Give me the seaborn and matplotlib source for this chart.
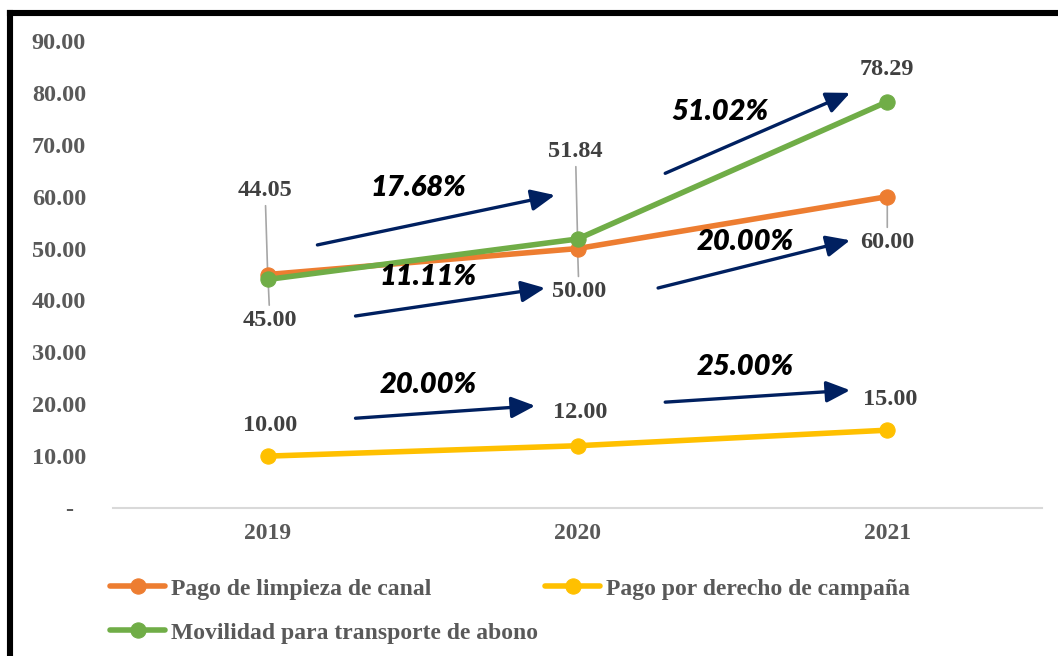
import pandas as pd
import matplotlib.pyplot as plt
from matplotlib.lines import Line2D
import seaborn as sns

# --- Datos ---
anios = [2019, 2020, 2021]
limpieza_canal = [45.00, 50.00, 60.00]
derecho_campana = [10.00, 12.00, 15.00]
movilidad_abono = [44.05, 51.84, 78.29]

series = ['Pago de limpieza de canal', 'Pago por derecho de campaña',
          'Movilidad para transporte de abono']
colores = ['#ED7D31', '#FFC000', '#70AD47']

# variaciones porcentuales entre años (texto de las flechas)
var_limpieza = ['11.11%', '20.00%']
var_campana = ['20.00%', '25.00%']
var_movilidad = ['17.68%', '51.02%']

df = pd.DataFrame({
    'Año': anios * 3,
    'Valor': limpieza_canal + derecho_campana + movilidad_abono,
    'Serie': [series[0]] * 3 + [series[1]] * 3 + [series[2]] * 3,
})

sns.set_theme(style='white')
plt.rcParams['font.family'] = ['Liberation Serif', 'DejaVu Serif']

fig = plt.figure(figsize=(10.58, 6.56), dpi=100)
ax = fig.add_axes([0.1068, 0.2256, 0.8782, 0.7119])

sns.lineplot(data=df, x='Año', y='Valor', hue='Serie', hue_order=series,
             palette=colores, marker='o', markersize=11, linewidth=4,
             ax=ax, legend=True)
for ln in ax.lines:
    ln.set_markeredgecolor(ln.get_color())
    ln.set_solid_capstyle('round')

# --- Ejes ---
gris = '#595959'
ax.set_xlim(2018.5, 2021.5)
ax.set_ylim(0, 90)
ax.set_xticks(anios)
ax.set_xticklabels([str(a) for a in anios], fontsize=17, fontweight='bold', color=gris)
ax.set_yticks(range(0, 91, 10))
ax.set_yticklabels(['-  '] + [f'{v:.2f}' for v in range(10, 91, 10)],
                   fontsize=17.5, fontweight='bold', color=gris)
ax.tick_params(axis='y', length=0, pad=19.5)
ax.tick_params(axis='x', length=0, pad=11)
ax.set_xlabel('')
ax.set_ylabel('')
for lado in ['top', 'right', 'left']:
    ax.spines[lado].set_visible(False)
ax.spines['bottom'].set_color('#D9D9D9')
ax.spines['bottom'].set_linewidth(1.5)
ax.grid(False)

# --- Etiquetas de datos ---
gris_oscuro = '#404040'
lider = dict(arrowstyle='-', color='#A6A6A6', lw=1.2, shrinkA=1, shrinkB=0)
etiquetas = [
    (anios[0], movilidad_abono[0], (-2, 64), True),
    (anios[0], limpieza_canal[0], (1.5, -33), True),
    (anios[1], movilidad_abono[1], (-1.5, 63), True),
    (anios[1], limpieza_canal[1], (1, -31), True),
    (anios[2], movilidad_abono[2], (0, 23), False),
    (anios[2], limpieza_canal[2], (0, -33), True),
    (anios[0], derecho_campana[0], (1.5, 22), False),
    (anios[1], derecho_campana[1], (2, 24), False),
    (anios[2], derecho_campana[2], (2, 22), False),
]
for x, y, off, con_linea in etiquetas:
    ax.annotate(f'{y:.2f}', xy=(x, y), xytext=off, textcoords='offset points',
                ha='center', va='center', fontsize=17.5, fontweight='bold',
                color=gris_oscuro, arrowprops=lider if con_linea else None,
                zorder=1)

# --- Flechas de variación ---
flecha = dict(arrowstyle='-|>,head_length=0.8,head_width=0.36', color='#002060',
              lw=2.4, shrinkA=0, shrinkB=0, mutation_scale=18)
flechas = [
    ((2019.16, 50.7), (2019.927, 60.3)),
    ((2019.283, 37.0), (2019.895, 42.4)),
    ((2020.283, 64.5), (2020.88, 80.0)),
    ((2020.26, 42.4), (2020.88, 51.6)),
    ((2019.283, 17.3), (2019.863, 19.7)),
    ((2020.283, 20.4), (2020.88, 22.7)),
]
for ini, fin in flechas:
    ax.annotate('', xy=fin, xytext=ini, arrowprops=flecha)

textos = [
    (2019.485, 61.7, var_movilidad[0]),
    (2019.517, 44.5, var_limpieza[0]),
    (2020.46, 76.3, var_movilidad[1]),
    (2020.541, 51.3, var_limpieza[1]),
    (2019.517, 23.7, var_campana[0]),
    (2020.541, 27.2, var_campana[1]),
]
for x, y, t in textos:
    ax.text(x, y, t, ha='center', va='center', fontsize=21, fontweight='heavy',
            fontstyle='italic', color='black', family=['Lato', 'DejaVu Sans'])

# --- Leyenda ---
handles, labels = ax.get_legend_handles_labels()
ax.get_legend().remove()
orden = [0, 2, 1]
leg = fig.legend([handles[i] for i in orden], [labels[i] for i in orden],
                 loc='upper left', bbox_to_anchor=(0.084, 0.151), ncol=2,
                 frameon=False, handlelength=2.33, handletextpad=0.25,
                 columnspacing=0.3, labelspacing=0.95,
                 prop={'size': 17, 'weight': 'bold'})
for txt in leg.get_texts():
    txt.set_color(gris)
for h in leg.legend_handles:
    h.set_linewidth(4)
    h.set_markersize(11)

# --- Marco negro (superior e izquierdo) ---
fig.add_artist(Line2D([0.0095, 1.0], [0.9802, 0.9802], color='black', lw=4.4,
                      transform=fig.transFigure, solid_capstyle='projecting'))
fig.add_artist(Line2D([0.0095, 0.0095], [0.9802, 0.0], color='black', lw=4.4,
                      transform=fig.transFigure, solid_capstyle='projecting'))

fig.savefig('out.png', dpi=100)
